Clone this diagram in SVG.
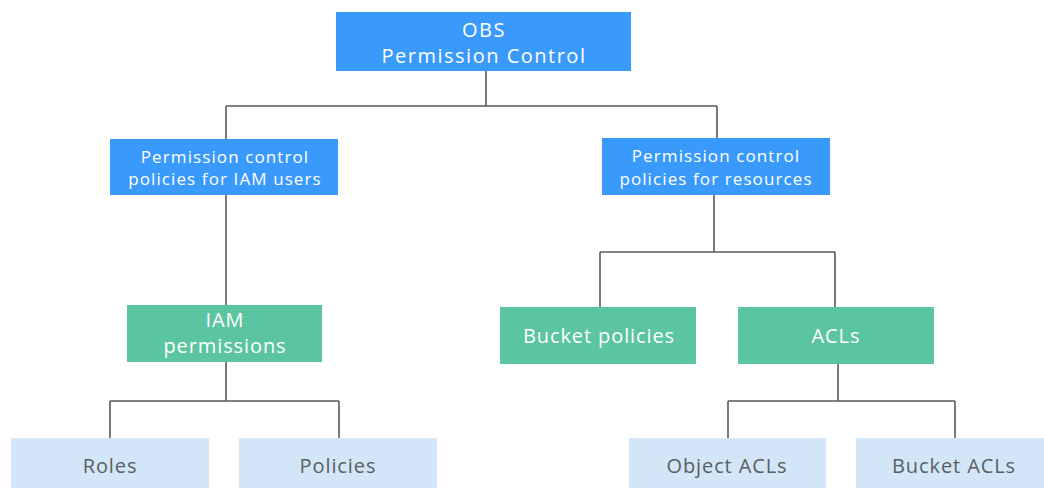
<svg xmlns="http://www.w3.org/2000/svg" width="1044" height="488" viewBox="0 0 1044 488">
<style>
.blue{fill:#3A9AFB}
.green{fill:#5BC4A0}
.light{fill:#D2E6F8}
.t{font-family:"Open Sans","Noto Sans",sans-serif;text-anchor:middle}
.w{fill:#FFFFFF}
.g{fill:#5A5E62}
.f1{font-size:20px;letter-spacing:1.5px}
.f2{font-size:17px;letter-spacing:1.1px}
.f3{font-size:20px;letter-spacing:0.9px}
.conn{fill:none;stroke:#555A5F;stroke-width:1.6}
</style>
<rect width="1044" height="488" fill="#FFFFFF"/>
<g id="connectors">
<path class="conn" d="M486 71V106M226 106H717M226 106V139M717 106V138"/>
<path class="conn" d="M226 195V305"/>
<path class="conn" d="M226 362V401M110 401H339M110 401V438M339 401V438"/>
<path class="conn" d="M714 195V252M600 252H835M600 252V307M835 252V307"/>
<path class="conn" d="M838 364V401M728 401H955M728 401V438M955 401V438"/>
</g>
<g id="obs">
<rect class="blue" x="336" y="12" width="295" height="59"/>
<text class="t w f1" x="484" y="37">OBS</text>
<text class="t w f1" x="484" y="63">Permission Control</text>
</g>
<g id="iam-users">
<rect class="blue" x="110" y="139" width="228" height="56"/>
<text class="t w f2" x="225" y="163">Permission control</text>
<text class="t w f2" x="225" y="185">policies for IAM users</text>
</g>
<g id="resources">
<rect class="blue" x="602" y="138" width="228" height="57"/>
<text class="t w f2" x="716" y="162">Permission control</text>
<text class="t w f2" x="716" y="185">policies for resources</text>
</g>
<g id="iam-permissions">
<rect class="green" x="127" y="305" width="195" height="57"/>
<text class="t w f3" x="225" y="327">IAM</text>
<text class="t w f3" x="225" y="353">permissions</text>
</g>
<g id="bucket-policies">
<rect class="green" x="500" y="307" width="196" height="57"/>
<text class="t w f3" x="599" y="343">Bucket policies</text>
</g>
<g id="acls">
<rect class="green" x="738" y="307" width="196" height="57"/>
<text class="t w f3" x="836" y="343">ACLs</text>
</g>
<g id="roles">
<rect class="light" x="11" y="438" width="198" height="55"/>
<text class="t g f3" x="110" y="473">Roles</text>
</g>
<g id="policies">
<rect class="light" x="239" y="438" width="198" height="55"/>
<text class="t g f3" x="338" y="473">Policies</text>
</g>
<g id="object-acls">
<rect class="light" x="629" y="438" width="197" height="55"/>
<text class="t g f3" x="727" y="473">Object ACLs</text>
</g>
<g id="bucket-acls">
<rect class="light" x="856" y="438" width="197" height="55"/>
<text class="t g f3" x="954" y="473">Bucket ACLs</text>
</g>
</svg>
